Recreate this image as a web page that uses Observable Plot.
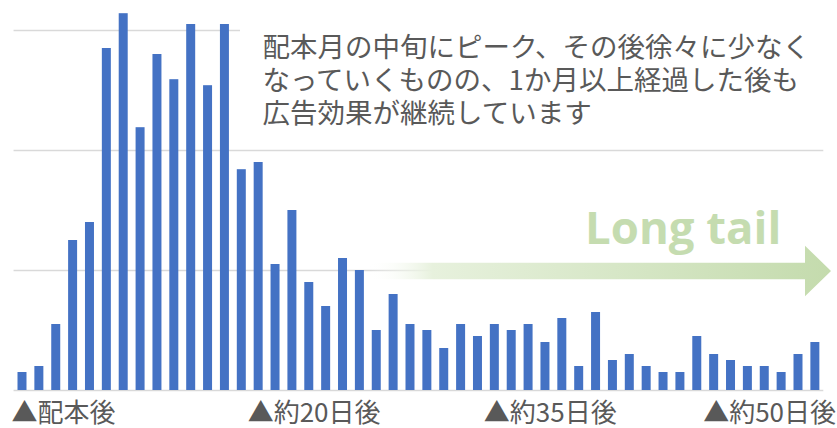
<!DOCTYPE html>
<html><head><meta charset="utf-8">
<script src="https://cdn.jsdelivr.net/npm/d3@7"></script>
<script src="https://cdn.jsdelivr.net/npm/@observablehq/plot@0.6"></script>
<style>html,body{margin:0;padding:0;background:#fff}#chart svg{display:block}</style>
</head><body><div id="chart"></div>
<script>
// Daily responses after distribution (relative units)
const values = [15,20,55,125,140,285,314,219,280,259,305,254,305,184,190,105,150,90,70,110,100,50,80,55,50,35,55,45,55,50,55,40,60,20,65,25,30,20,15,15,45,30,25,20,20,15,30,40];
const days = values.map((_, i) => i + 1);
const gridValues = [0, 100, 200, 300];
const tickDays = [1, 15, 29, 42];
const tickLabels = ["▲配本後", "▲約20日後", "▲約35日後", "▲約50日後"];
const annotation = "配本月の中旬にピーク、その後徐々に少なく\nなっていくものの、1か月以上経過した後も\n広告効果が継続しています";
const tailLabel = "Long tail";

const data = values.map((v, i) => ({day: days[i], v}));
const CJK = "'Noto Sans CJK JP', 'Noto Sans', sans-serif";

const plot = Plot.plot({
  width: 837, height: 428,
  marginLeft: 13.56, marginRight: 13.7, marginTop: 0, marginBottom: 38,
  x: {type: "band", domain: days, paddingInner: 0.467, paddingOuter: 0.2335, axis: null},
  y: {domain: [0, 325], axis: null},
  style: {fontFamily: CJK, background: "#fff"},
  marks: [
    Plot.ruleY(gridValues, {stroke: "#d9d9d9", strokeWidth: 1.3}),
    Plot.barY(data, {x: "day", y: "v", fill: "#4472c4"}),
    Plot.text(tickLabels, {x: (d, i) => tickDays[i], y: () => 0, text: d => d, textAnchor: "start", dx: -11, dy: 23, lineAnchor: "middle", fontSize: 26, fill: "#595959"}),
    Plot.text([annotation], {frameAnchor: "top-left", dx: 262 - 13.56, dy: 33, lineAnchor: "top", lineHeight: 1.2, fontSize: 27.5, fill: "#595959", textAnchor: "start"})
  ]
});

const svg = d3.select(plot);
// white text-box background (hides top gridline behind annotation)
const annNode = svg.selectAll("text").filter(function(){ return this.textContent.startsWith("配本月"); }).node();
const annG = annNode.closest("g") || annNode;
const box = document.createElementNS("http://www.w3.org/2000/svg", "rect");
box.setAttribute("x", 240); box.setAttribute("y", 20); box.setAttribute("width", 597); box.setAttribute("height", 115); box.setAttribute("fill", "#fff");
annG.parentNode.insertBefore(box, annG);

// long-tail arrow
const xs = plot.scale("x"), ys = plot.scale("y");
const x0 = xs.apply(22) - 4, yc = ys.apply(100) + 1;
const tip = 831, headBase = 805, sh = 8.3, hh = 25.3;
const defs = svg.append("defs");
const grad = defs.append("linearGradient").attr("id", "tailGrad").attr("gradientUnits", "userSpaceOnUse")
  .attr("x1", x0).attr("x2", tip).attr("y1", 0).attr("y2", 0);
grad.append("stop").attr("offset", 0).attr("stop-color", "#ffffff").attr("stop-opacity", 0);
grad.append("stop").attr("offset", 0.14).attr("stop-color", "#e7f1dd").attr("stop-opacity", 1);
grad.append("stop").attr("offset", 1).attr("stop-color", "#c4dbad").attr("stop-opacity", 1);
svg.append("path")
  .attr("d", `M${x0},${yc - sh}L${headBase},${yc - sh}L${headBase},${yc - hh}L${tip},${yc}L${headBase},${yc + hh}L${headBase},${yc + sh}L${x0},${yc + sh}Z`)
  .attr("fill", "url(#tailGrad)");
svg.append("text").attr("x", 585).attr("y", 243.5).attr("text-anchor", "start")
  .attr("font-family", "'Open Sans', 'Noto Sans', sans-serif").attr("font-weight", 700).attr("font-size", 45.5)
  .attr("fill", "#c5dcb0").text(tailLabel);

document.getElementById("chart").appendChild(plot);
</script>
</body></html>
